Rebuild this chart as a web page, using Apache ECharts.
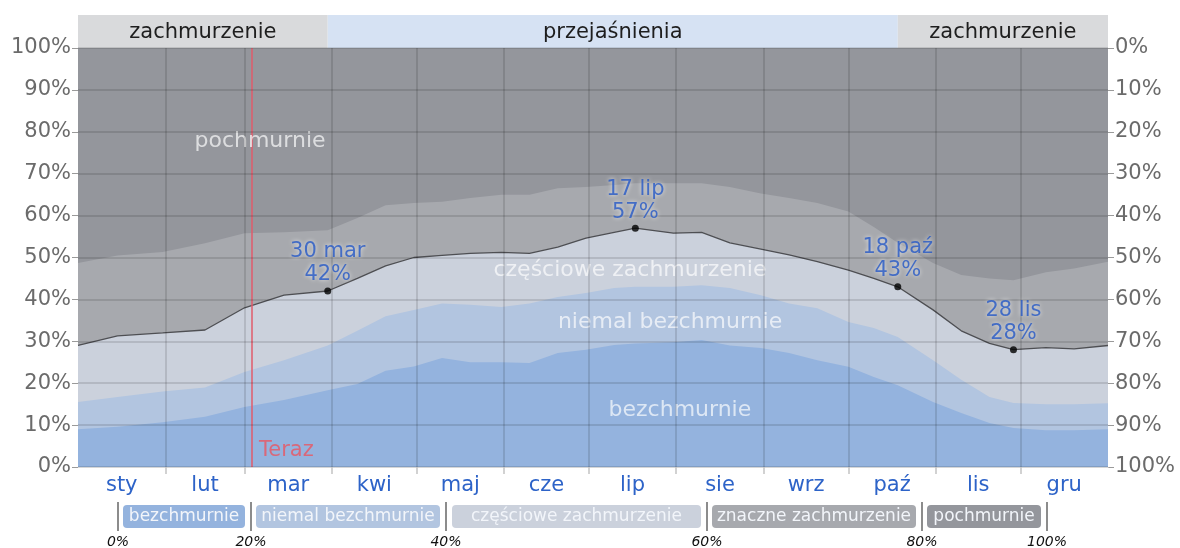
<!DOCTYPE html>
<html>
<head>
<meta charset="utf-8">
<style>
  html, body { margin: 0; padding: 0; background: #fff; }
  #chart { width: 1180px; height: 548px; }
</style>
<script src="https://cdn.jsdelivr.net/npm/echarts@6/dist/echarts.min.js"></script>
</head>
<body>
<div id="chart"></div>
<script>
// day of year (1 sty = 0) of each sample
const days = [0, 14, 30, 45, 59, 73, 88.5, 99, 109, 119, 129, 139, 150, 160, 170, 180, 190, 197.5,
  211, 221, 231, 242, 252, 262, 273, 282, 290.5, 303, 313, 323, 331.5, 343, 353, 365]

// cumulative shares (%), from the bottom up
const clearTop = [9, 9.6, 10.7, 12, 14.3, 16, 18.3, 19.8, 23, 24, 26, 25, 25, 24.8, 27.2, 28, 29.1, 29.5,
  29.8, 30.3, 29, 28.4, 27.2, 25.5, 23.9, 21.5, 19.5, 15.5, 12.9, 10.5, 9.3, 8.8, 8.8, 9]
const mostlyClearTop = [15.5, 16.7, 18, 19, 22.7, 25.5, 29, 32.5, 36, 37.5, 39, 38.7, 38.2, 39, 40.6, 41.5, 42.7, 43,
  43, 43.4, 42.7, 41, 39, 37.9, 34.6, 33.2, 31, 25.5, 20.8, 16.7, 15.3, 15, 15, 15.2]
const partlyCloudyTop = [29, 31.3, 32, 32.7, 38, 41, 42, 45, 48, 50, 50.5, 51, 51.2, 51, 52.5, 54.6, 56, 57,
  55.8, 56, 53.5, 52, 50.6, 49, 47, 45, 43, 37.5, 32.5, 29.5, 28, 28.5, 28.2, 29]
const mostlyCloudyTop = [48.7, 50.5, 51.3, 53.4, 55.8, 56, 56.5, 59.4, 62.5, 63, 63.3, 64.2, 65, 65, 66.5, 66.8, 67.3, 67.7,
  67.7, 67.7, 66.8, 65.3, 64.2, 63, 61, 57.3, 53.5, 48.7, 45.8, 45, 44.6, 46.5, 47.4, 49]

const monthNames = ['sty', 'lut', 'mar', 'kwi', 'maj', 'cze', 'lip', 'sie', 'wrz', 'paź', 'lis', 'gru']
const monthStarts = [0, 31, 59, 90, 120, 151, 181, 212, 243, 273, 304, 334, 365]

const noteDays = [88.5, 197.5, 290.5, 331.5]
const noteLabels = ['30 mar', '17 lip', '18 paź', '28 lis']
const noteValues = [42, 57, 43, 28]

const seasonStart = [0, 88.5, 290.5]
const seasonEnd = [88.5, 290.5, 365]
const seasonNames = ['zachmurzenie', 'przejaśnienia', 'zachmurzenie']

const nowDay = 61.5

const legendNames = ['bezchmurnie', 'niemal bezchmurnie', 'częściowe zachmurzenie', 'znaczne zachmurzenie', 'pochmurnie']
const legendTicks = ['0%', '20%', '40%', '60%', '80%', '100%']

const colors = ['#94b3de', '#b2c5e0', '#cbd1dc', '#a7a9ae', '#94969c']
const seasonColors = ['#d9dadc', '#d6e2f3', '#d9dadc']
const FONT = '"DejaVu Sans", sans-serif'

const monthMids = monthStarts.slice(0, -1).map((s, i) => (s + monthStarts[i + 1]) / 2)
const zip = (arr) => days.map((d, i) => [d, arr[i]])

const area = (name, arr, color, z, line) => ({
  name,
  type: 'line',
  data: zip(arr),
  symbol: 'none',
  z,
  silent: true,
  lineStyle: line ? { color: '#4e4f53', width: 1.3 } : { width: 0 },
  areaStyle: { color, opacity: 1 }
})

const regionLabel = (name, coord) => ({
  name,
  coord,
  label: { show: true, position: 'inside', formatter: name, color: 'rgba(255,255,255,0.68)', fontSize: 22, fontFamily: FONT }
})

// legend boxes (pixel layout)
const boxL = [123, 256, 452, 712, 927]
const boxR = [245, 440, 701, 916, 1041]
const sepX = [118, 251, 446, 707, 922, 1047]
const graphic = []
legendNames.forEach((n, i) => {
  graphic.push({
    type: 'rect',
    shape: { x: boxL[i], y: 505, width: boxR[i] - boxL[i], height: 23, r: 4 },
    style: { fill: colors[i] }
  })
  graphic.push({
    type: 'text',
    style: { text: n, x: (boxL[i] + boxR[i]) / 2, y: 516.5, align: 'center', verticalAlign: 'middle',
      fill: '#f2f5fa', font: '17px ' + FONT }
  })
})
sepX.forEach((x, i) => {
  graphic.push({
    type: 'line',
    shape: { x1: x, y1: 502, x2: x, y2: 531 },
    style: { stroke: '#8c8c8c', lineWidth: 2 }
  })
  graphic.push({
    type: 'text',
    style: { text: legendTicks[i], x, y: 542, align: 'center', verticalAlign: 'middle',
      fill: '#111', font: 'italic 14px ' + FONT }
  })
})

const chart = echarts.init(document.getElementById('chart'))
chart.setOption({
  animation: false,
  graphic,
  grid: [
    { left: 78, right: 72, top: 48, bottom: 81, show: true, backgroundColor: colors[4], borderWidth: 0 },
    { left: 78, right: 72, top: 15, height: 33 }
  ],
  xAxis: [
    {
      type: 'value', min: 0, max: 365, z: 6,
      axisLine: { show: true, lineStyle: { color: '#d6d6d6' } },
      axisTick: { show: true, customValues: monthStarts.slice(1, -1), length: 7, lineStyle: { color: '#c4c4c4', width: 1.5 } },
      axisLabel: {
        customValues: monthMids, margin: 8, color: '#2d63c8', fontSize: 21, fontFamily: FONT,
        formatter: (v) => monthNames[monthMids.findIndex((m) => Math.abs(m - v) < 0.01)] || ''
      },
      splitLine: { show: true, lineStyle: { color: 'rgba(0,0,0,0.16)', width: 1.5 } }
    },
    { type: 'value', gridIndex: 1, min: 0, max: 365, show: false }
  ],
  yAxis: [
    {
      type: 'value', min: 0, max: 100, interval: 10, z: 6,
      axisLine: { show: false },
      axisTick: { show: true, length: 6, lineStyle: { color: '#9a9a9a' } },
      axisLabel: { formatter: '{value}%', color: '#6b6b6b', fontSize: 21, fontFamily: FONT, margin: 7 },
      splitLine: { show: true, lineStyle: { color: 'rgba(0,0,0,0.16)', width: 1.5 } }
    },
    {
      type: 'value', position: 'right', inverse: true, min: 0, max: 100, interval: 10,
      axisLine: { show: false },
      axisTick: { show: true, length: 6, lineStyle: { color: '#9a9a9a' } },
      axisLabel: { formatter: '{value}%', color: '#6b6b6b', fontSize: 21, fontFamily: FONT, margin: 7 },
      splitLine: { show: false }
    },
    { type: 'value', gridIndex: 1, min: 0, max: 1, show: false }
  ],
  series: [
    area('znaczne zachmurzenie', mostlyCloudyTop, colors[3], 1, false),
    area('częściowe zachmurzenie', partlyCloudyTop, colors[2], 2, true),
    area('niemal bezchmurnie', mostlyClearTop, colors[1], 3, false),
    area('bezchmurnie', clearTop, colors[0], 4, false),
    {
      type: 'scatter',
      z: 10,
      data: noteDays.map((d, i) => [d, noteValues[i], noteLabels[i]]),
      symbolSize: 7,
      itemStyle: { color: '#000' },
      label: {
        show: true, position: 'top', distance: 1,
        formatter: (p) => p.data[2] + '\n' + p.data[1] + '%',
        color: '#2457c5', fontSize: 21, lineHeight: 23, fontFamily: FONT,
        textShadowColor: 'rgba(255,255,255,0.95)', textShadowBlur: 4
      },
      markLine: {
        silent: true, symbol: ['none', 'none'],
        lineStyle: { color: '#e05b6b', width: 1.5, type: 'solid' },
        label: { show: false },
        data: [{ xAxis: nowDay }]
      },
      markPoint: {
        silent: true, symbol: 'circle', symbolSize: 1, itemStyle: { color: 'rgba(0,0,0,0)' },
        data: [
          regionLabel('pochmurnie', [64.5, 77.8]),
          regionLabel('częściowe zachmurzenie', [195.6, 47]),
          regionLabel('niemal bezchmurnie', [209.8, 34.6]),
          regionLabel('bezchmurnie', [213.3, 13.6]),
          {
            name: 'Teraz', coord: [nowDay, 0],
            label: { show: true, position: 'right', distance: 7, offset: [0, -16], formatter: 'Teraz',
              color: '#d9687a', fontSize: 21, fontFamily: FONT }
          }
        ]
      }
    },
    {
      type: 'custom',
      xAxisIndex: 1,
      yAxisIndex: 2,
      silent: true,
      data: seasonStart.map((s, i) => [s, seasonEnd[i], i]),
      encode: { x: [0, 1] },
      renderItem: (params, api) => {
        const i = api.value(2)
        const p0 = api.coord([api.value(0), 1])
        const p1 = api.coord([api.value(1), 0])
        return {
          type: 'group',
          children: [
            { type: 'rect', shape: { x: p0[0], y: p0[1], width: p1[0] - p0[0], height: p1[1] - p0[1] },
              style: { fill: seasonColors[i] } },
            { type: 'text', style: { text: seasonNames[i], x: (p0[0] + p1[0]) / 2, y: (p0[1] + p1[1]) / 2 + 1,
              align: 'center', verticalAlign: 'middle', fill: '#1e1e1e', font: '21px ' + FONT } }
          ]
        }
      }
    }
  ]
})
</script>
</body>
</html>
